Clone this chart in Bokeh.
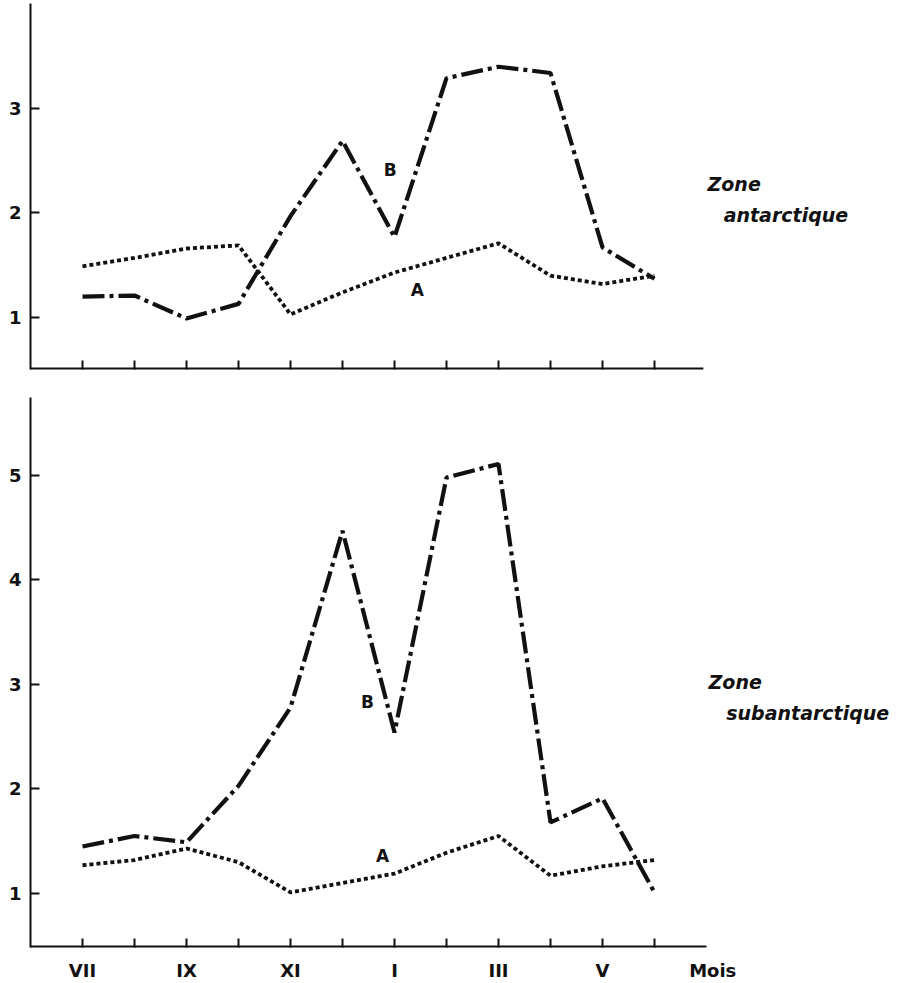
from bokeh.plotting import figure
from bokeh.layouts import column
from bokeh.models import FixedTicker, Label, Range1d
from bokeh.embed import file_html
from bokeh.resources import INLINE

# ---- data ----
months = ["VII", "VIII", "IX", "X", "XI", "XII", "I", "II", "III", "IV", "V", "VI"]
shown_months = ["VII", "IX", "XI", "I", "III", "V"]
x_idx = list(range(len(months)))

ant_A = [1.49, 1.57, 1.66, 1.69, 1.03, 1.24, 1.43, 1.57, 1.71, 1.40, 1.32, 1.40]
ant_B = [1.20, 1.21, 0.99, 1.13, 1.97, 2.69, 1.77, 3.29, 3.40, 3.34, 1.67, 1.37]

sub_A = [1.27, 1.32, 1.43, 1.30, 1.01, 1.10, 1.19, 1.39, 1.55, 1.17, 1.26, 1.32]
sub_B = [1.45, 1.55, 1.49, 2.03, 2.78, 4.47, 2.54, 4.98, 5.11, 1.68, 1.91, 1.01]

ant_yticks = [1, 2, 3]
sub_yticks = [1, 2, 3, 4, 5]
axis_word = "Mois"
axis_word_pos = 12.12

FONT = "DejaVu Sans"
INK = "#111111"
W = 914
LEFT = 30
XR = (-1.0, 16.0)

DOT = "4 3"
DASHDOT = "22 5 4 5"


def base_fig(height, yr, yticks, top, bottom, axis_end):
    p = figure(width=W, height=height, output_backend="svg", toolbar_location=None,
               x_range=Range1d(*XR), y_range=Range1d(*yr),
               min_border_left=LEFT, min_border_right=0,
               min_border_top=top, min_border_bottom=bottom,
               background_fill_color="white", border_fill_color="white")
    p.outline_line_color = None
    p.xgrid.visible = False
    p.ygrid.visible = False
    for ax in (p.xaxis[0], p.yaxis[0]):
        ax.axis_line_width = 2
        ax.axis_line_color = INK
        ax.major_tick_line_width = 2
        ax.major_tick_line_color = INK
        ax.major_tick_in = 9
        ax.major_tick_out = 0
        ax.minor_tick_line_color = None
        ax.major_label_text_font = FONT
        ax.major_label_text_font_style = "bold"
        ax.major_label_text_font_size = "18px"
        ax.major_label_text_color = INK
    p.yaxis[0].ticker = FixedTicker(ticks=yticks)
    p.yaxis[0].major_label_standoff = 9
    # x axis: the drawn axis line stops short of the right-hand annotations
    xa = p.xaxis[0]
    xa.axis_line_color = None
    xa.major_tick_line_color = None
    xa.minor_tick_line_color = INK
    xa.minor_tick_line_width = 2
    xa.minor_tick_in = 9
    xa.minor_tick_out = 0
    p.segment(x0=[XR[0]], y0=[yr[0]], x1=[axis_end], y1=[yr[0]],
              line_color=INK, line_width=4)
    return p


def add_series(p, a, b):
    p.line(x_idx, a, line_color=INK, line_width=3.8, line_dash=DOT)
    p.line(x_idx, b, line_color=INK, line_width=4.2, line_dash=DASHDOT)


def label(p, x, y, text, size="17px", style="bold", align="center"):
    p.add_layout(Label(x=x, y=y, text=text, text_font=FONT, text_font_size=size,
                       text_font_style=style, text_color=INK, text_align=align,
                       text_baseline="middle"))


# ---- top panel: Zone antarctique ----
p1 = base_fig(383, (0.502, 4.005), ant_yticks, 3, 14, 11.94)
p1.xaxis[0].ticker = FixedTicker(ticks=[], minor_ticks=x_idx)
p1.xaxis[0].major_label_standoff = 0
add_series(p1, ant_A, ant_B)
label(p1, 5.92, 2.41, "B")
label(p1, 6.44, 1.26, "A")
label(p1, 12.02, 2.28, "Zone", size="19px", style="bold italic", align="left")
label(p1, 12.33, 1.98, "antarctique", size="19px", style="bold italic", align="left")

# ---- bottom panel: Zone subantarctique ----
major = [i for i, m in enumerate(months) if m in shown_months] + [axis_word_pos]
p2 = base_fig(600, (0.483, 5.746), sub_yticks, 14, 36, 12.0)
p2.xaxis[0].ticker = FixedTicker(ticks=major, minor_ticks=x_idx)
overrides = {i: m for i, m in enumerate(months) if m in shown_months}
overrides[axis_word_pos] = axis_word
p2.xaxis[0].major_label_overrides = overrides
p2.xaxis[0].major_label_standoff = 12
add_series(p2, sub_A, sub_B)
label(p2, 5.48, 2.83, "B")
label(p2, 5.77, 1.36, "A")
label(p2, 12.04, 3.02, "Zone", size="19px", style="bold italic", align="left")
label(p2, 12.38, 2.73, "subantarctique", size="19px", style="bold italic", align="left")

layout = column(p1, p2, spacing=0)
open("out.html", "w").write(file_html(layout, INLINE))
